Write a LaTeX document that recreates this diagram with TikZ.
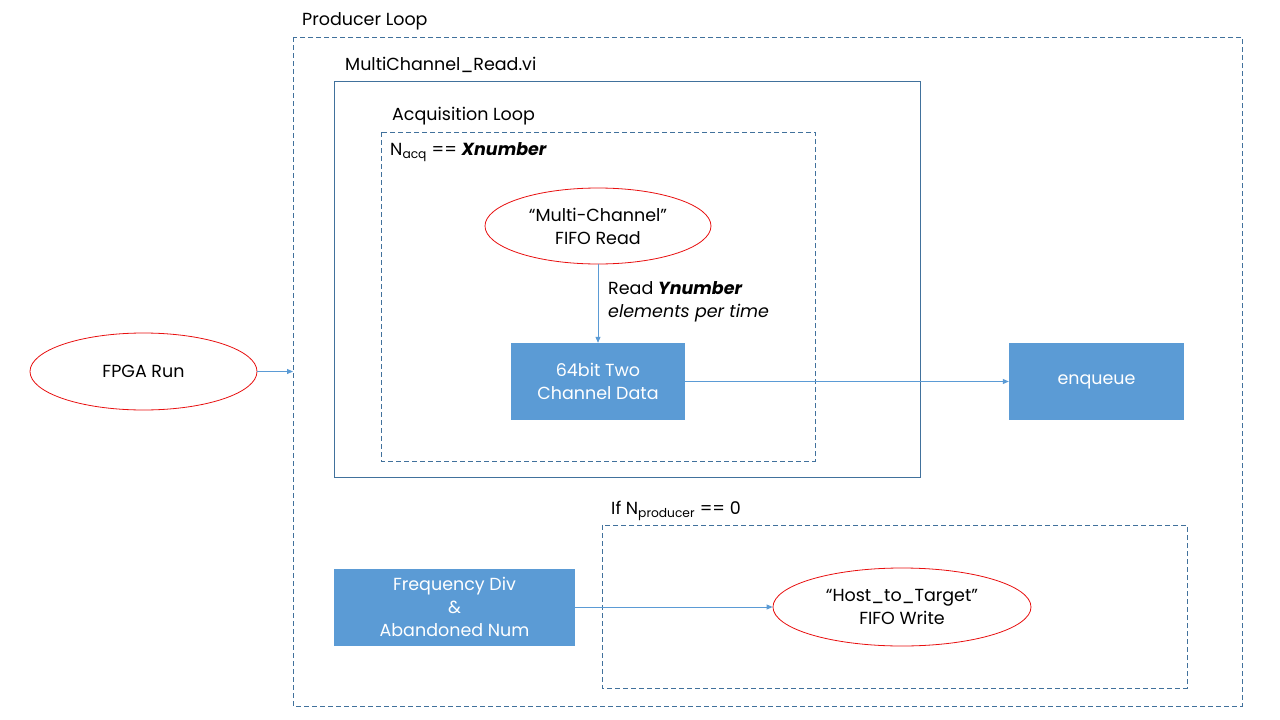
\documentclass[tikz,border=0pt]{standalone}
\usepackage{fontspec}
\setmainfont{Poppins}
\usetikzlibrary{shapes.geometric,arrows.meta}
\definecolor{frame}{HTML}{41719C}
\definecolor{fillb}{HTML}{5B9BD5}
\definecolor{ered}{HTML}{E81010}
\tikzset{
  every node/.style={font=\fontsize{17.5}{23}\selectfont},
  dashbox/.style={draw=frame, dashed, line width=0.8pt, dash pattern=on 5pt off 3pt},
  solidbox/.style={draw=frame, line width=0.8pt},
  bluebox/.style={fill=fillb, text=white, align=center, inner sep=0pt},
  redell/.style={ellipse, draw=ered, fill=white, line width=0.8pt, align=center, inner sep=0pt},
  conn/.style={draw=fillb, line width=0.8pt, -{Triangle[length=6pt,width=5pt]}},
  lab/.style={anchor=west, inner sep=0pt}
}
\begin{document}
\begin{tikzpicture}[x=1pt,y=-1pt]
\useasboundingbox (0,0) rectangle (1280,720);
% frames
\draw[dashbox] (293,37) rectangle (1242,706);
\node[lab] (lprod) at (302,21) {Producer Loop};
\draw[solidbox] (334,81) rectangle (920,477);
\node[lab] (lmcr) at (345,65) {MultiChannel\_Read.vi};
\draw[dashbox] (381,132) rectangle (815,461);
\node[lab] (lacq) at (392,116) {Acquisition Loop};
\node[lab] (lnacq) at (390,152) {N\textsubscript{acq} == \textbf{\textit{Xnumber}}};
\draw[dashbox] (602,525) rectangle (1187,688);
\node[lab] (lif) at (611,511) {If N\textsubscript{producer} == 0};
% nodes
\node[redell, minimum width=226pt, minimum height=76pt] (mc) at (598,226) {“Multi-Channel”\\FIFO Read};
\node[bluebox, minimum width=174pt, minimum height=77pt] (data) at (598,381.5) {64bit Two\\Channel Data};
\node[bluebox, minimum width=175pt, minimum height=77pt] (enq) at (1096.5,381.5) {enqueue};
\node[redell, minimum width=227pt, minimum height=77pt] (fpga) at (143.5,371.5) {FPGA Run};
\node[bluebox, minimum width=241pt, minimum height=77pt] (freq) at (454.5,607) {Frequency Div\\\&\\Abandoned Num};
\node[redell, minimum width=258pt, minimum height=78pt] (host) at (902,607) {“Host\_to\_Target”\\FIFO Write};
\coordinate (prodin) at (293,371.5);
% connectors
\draw[conn] (mc.south) -- (data.north);
\node[lab, align=left] (lread) at (608,302) {Read \textbf{\textit{Ynumber}}\\\textit{elements per time}};
\draw[conn] (data.east) -- (enq.west);
\draw[conn] (fpga.east) -- (prodin);
\draw[conn] (freq.east) -- (host.west);
\end{tikzpicture}
\end{document}
